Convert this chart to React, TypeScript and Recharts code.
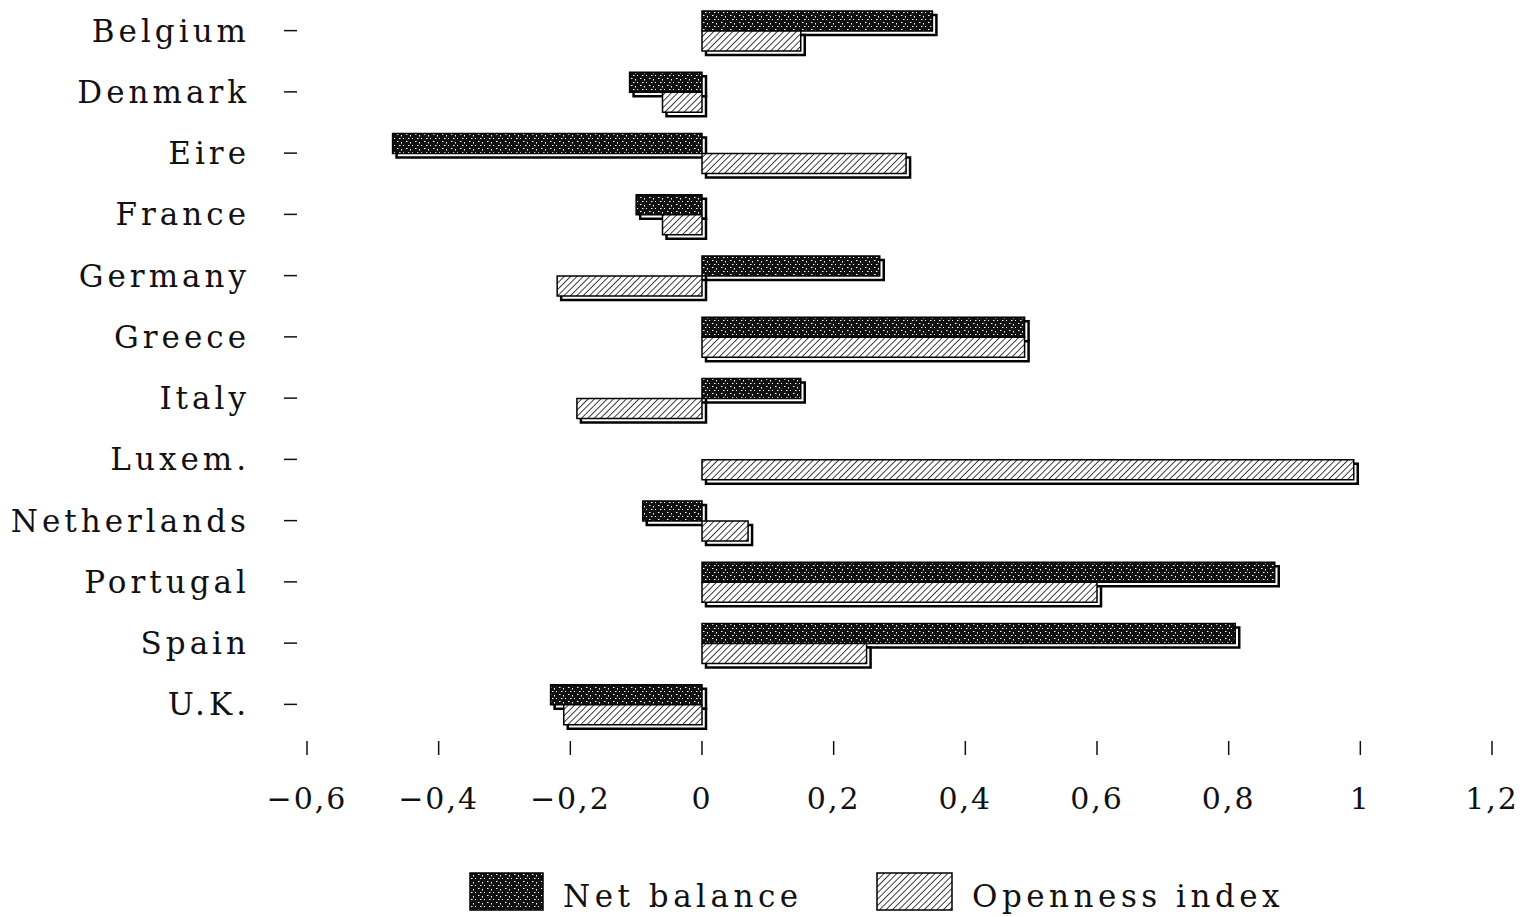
import { BarChart, Bar, XAxis, YAxis } from 'recharts';

const countries = ['Belgium', 'Denmark', 'Eire', 'France', 'Germany', 'Greece', 'Italy', 'Luxem.', 'Netherlands', 'Portugal', 'Spain', 'U.K.'];
const netBalance = [0.35, -0.11, -0.47, -0.1, 0.27, 0.49, 0.15, 0, -0.09, 0.87, 0.81, -0.23];
const openness = [0.15, -0.06, 0.31, -0.06, -0.22, 0.49, -0.19, 0.99, 0.07, 0.6, 0.25, -0.21];
const xTicks = [-0.6, -0.4, -0.2, 0, 0.2, 0.4, 0.6, 0.8, 1, 1.2];

const data = countries.map((name, i) => ({ name, net: netBalance[i], open: openness[i] }));

const FONT = '"DejaVu Serif", serif';

const fmt = (v: number) => {
  const s = String(Math.round(v * 10) / 10).replace('.', ',');
  return s.startsWith('-') ? '\u2212' + s.slice(1) : s;
};

// bar face plus an offset outline underneath, like the old 3D look
const ShadowBar = (props: any) => {
  const { x, y, width, height, fill } = props;
  const x0 = Math.min(x, x + width);
  const w = Math.abs(width);
  const d = 4;
  return (
    <g>
      <rect x={x0 + d} y={y + d} width={w} height={height} fill='#fff' stroke='#000' strokeWidth={2.5} />
      <rect x={x0} y={y} width={w} height={height} fill={fill} stroke='#000' strokeWidth={1.5} />
    </g>
  );
};

const YTick = (props: any) => {
  const { y, payload } = props;
  return (
    <g>
      <text x={250} y={y + 11} textAnchor='end' fontFamily={FONT} fontSize={31} letterSpacing={4} fill='#111'>
        {payload.value}
      </text>
      <line x1={284} x2={297} y1={y} y2={y} stroke='#111' strokeWidth={1.5} />
    </g>
  );
};

const XTick = (props: any) => {
  const { x, payload } = props;
  return (
    <g>
      <line x1={x} x2={x} y1={741} y2={755} stroke='#111' strokeWidth={1.5} />
      <text x={x} y={809} textAnchor='middle' fontFamily={FONT} fontSize={30} letterSpacing={2} fill='#111'>
        {fmt(payload.value)}
      </text>
    </g>
  );
};

const Patterns = () => (
  <svg width={0} height={0} style={{ position: 'absolute' }}>
    <defs>
      <pattern id='netPat' patternUnits='userSpaceOnUse' width={9} height={7}>
        <rect width={9} height={7} fill='#111' />
        <rect x={1} y={1} width={1.5} height={1} fill='#fff' />
        <rect x={5} y={2} width={1} height={1.5} fill='#fff' />
        <rect x={3} y={5} width={1.5} height={1} fill='#fff' />
        <rect x={7} y={5} width={1} height={1} fill='#fff' />
      </pattern>
      <pattern id='hatchPat' patternUnits='userSpaceOnUse' width={4.5} height={4.5} patternTransform='rotate(45)'>
        <rect width={4.5} height={4.5} fill='#fff' />
        <line x1={0} y1={0} x2={0} y2={4.5} stroke='#111' strokeWidth={1.6} />
      </pattern>
    </defs>
  </svg>
);

const App = () => {
  return (
    <div style={{ position: 'absolute', left: 0, top: 0, width: 1526, height: 917, background: '#fff' }}>
      <Patterns />
      <BarChart
        width={1526}
        height={830}
        data={data}
        layout='vertical'
        margin={{ top: 0, right: 34, left: 0, bottom: 0 }}
        barGap={0}
        barSize={20}
      >
        <XAxis
          type='number'
          domain={[-0.6, 1.2]}
          ticks={xTicks}
          axisLine={false}
          tickLine={false}
          height={95}
          tick={<XTick />}
        />
        <YAxis
          type='category'
          dataKey='name'
          width={307}
          axisLine={false}
          tickLine={false}
          tick={<YTick />}
          interval={0}
        />
        <Bar dataKey='net' fill='url(#netPat)' shape={<ShadowBar />} isAnimationActive={false} />
        <Bar dataKey='open' fill='url(#hatchPat)' shape={<ShadowBar />} isAnimationActive={false} />
      </BarChart>
      <div style={{ position: 'absolute', left: 0, top: 866, width: 1526, height: 50 }}>
        <svg width={1526} height={50}>
          <rect x={470} y={7} width={73} height={37} fill='url(#netPat)' stroke='#000' strokeWidth={1.5} />
          <text x={563} y={41} fontFamily={FONT} fontSize={31} letterSpacing={4.5} fill='#111'>
            Net balance
          </text>
          <rect x={877} y={7} width={75} height={37} fill='url(#hatchPat)' stroke='#000' strokeWidth={1.5} />
          <text x={972} y={41} fontFamily={FONT} fontSize={31} letterSpacing={4.5} fill='#111'>
            Openness index
          </text>
        </svg>
      </div>
    </div>
  );
};

export default App;
